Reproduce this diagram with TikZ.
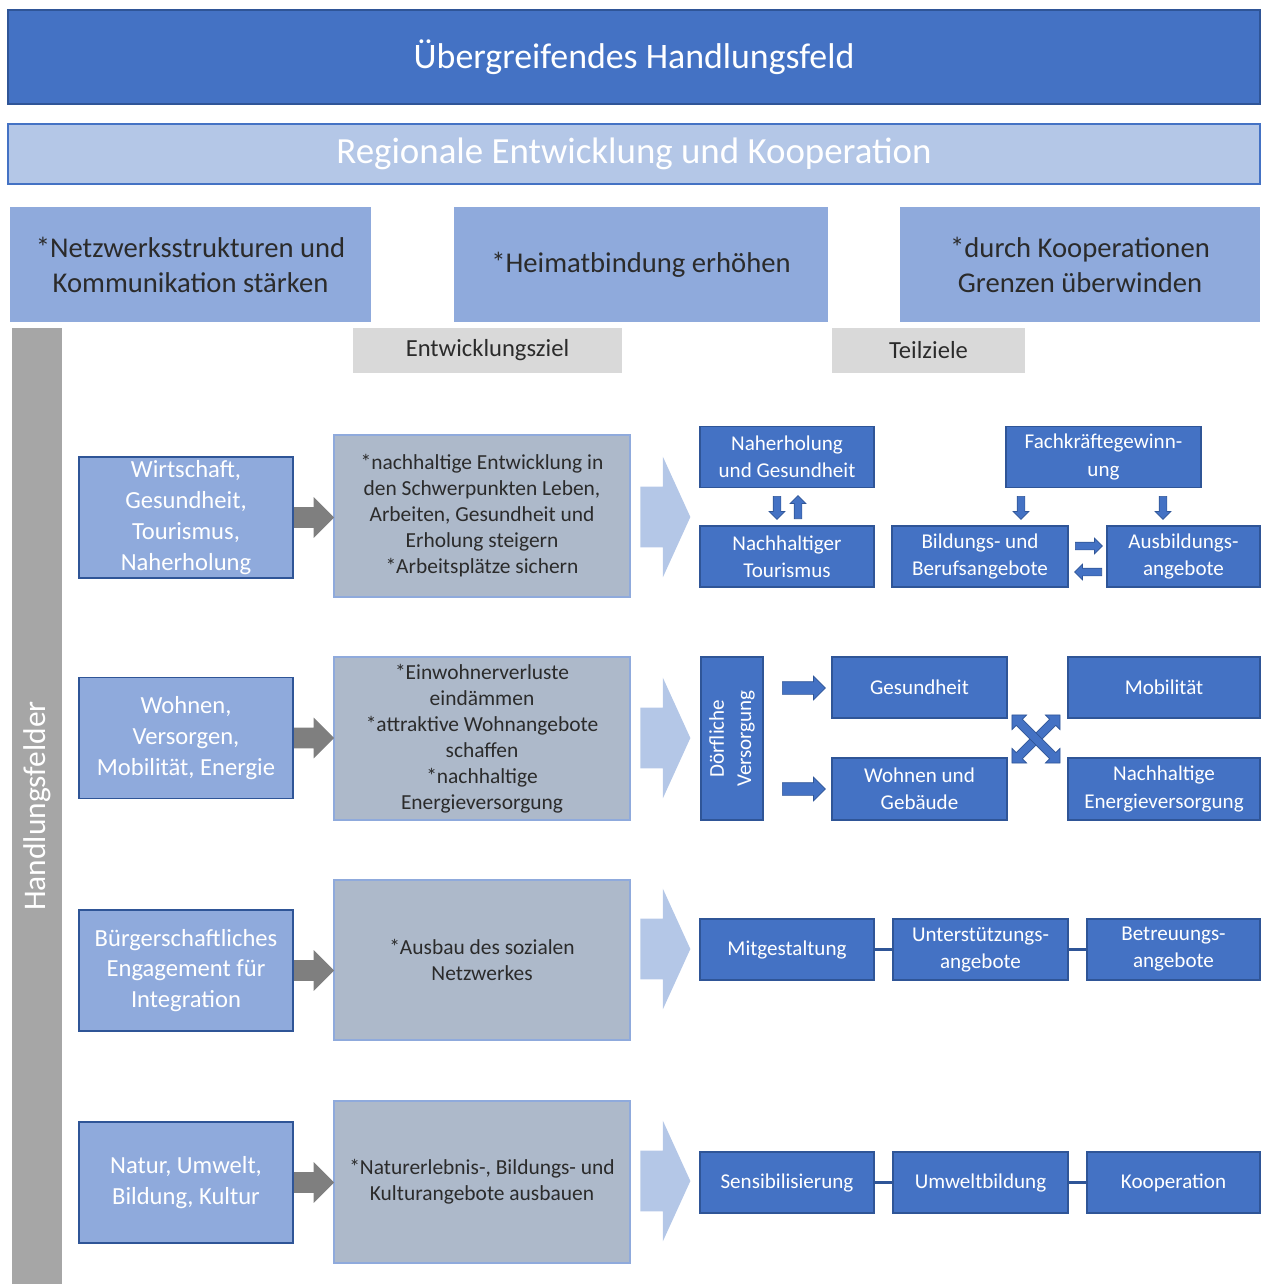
\documentclass[tikz,border=0pt]{standalone}
\usepackage{fontspec}
\setmainfont{Carlito}
\usetikzlibrary{shapes.arrows,calc}
\definecolor{dblue}{HTML}{4472C4}
\definecolor{bdark}{HTML}{2F5597}
\definecolor{lblue}{HTML}{B4C7E7}
\definecolor{mblue}{HTML}{8FAADC}
\definecolor{gblue}{HTML}{ADB9CA}
\definecolor{hgray}{HTML}{D9D9D9}
\definecolor{bargray}{HTML}{A6A6A6}
\definecolor{arrgray}{HTML}{7F7F7F}
\definecolor{txtdark}{HTML}{2B2B2B}
\newcommand{\fs}[2]{\fontsize{#1}{#2}\selectfont}
\begin{document}
\begin{tikzpicture}[x=0.02cm,y=-0.02cm]
\pgfmathsetlengthmacro\pix{0.02cm};
\tikzset{
  box/.style={inner sep=0pt, align=center},
  lbox/.style={box, fill=mblue, draw=bdark, line width=0.8pt, text=white, minimum width=214*\pix, minimum height=121*\pix, font={\fs{14}{17.6}}},
  zbox/.style={box, fill=gblue, draw=mblue, line width=1pt, text=txtdark, minimum width=296*\pix, minimum height=162*\pix, font={\fs{12.2}{14.8}}},
  tbox/.style={box, fill=dblue, draw=bdark, line width=0.6pt, text=white, minimum height=61*\pix, font={\fs{12}{15.4}}},
  zielbox/.style={box, fill=mblue, text=txtdark, minimum height=115*\pix, font={\fs{16.3}{19.9}}},
  headbox/.style={box, fill=hgray, text=txtdark, minimum height=45*\pix, font={\fs{14}{16}}},
  grayarr/.style={single arrow, anchor=tail, fill=arrgray, inner xsep=0pt, inner ysep=10*\pix, minimum width=0pt, minimum height=40*\pix, single arrow head extend=10*\pix, single arrow tip angle=90},
  chevron/.style={single arrow, anchor=tail, fill=lblue, inner xsep=0pt, inner ysep=30*\pix, minimum width=0pt, minimum height=50*\pix, single arrow head extend=30*\pix, single arrow tip angle=131},
  barr/.style={single arrow, anchor=tail, fill=dblue, draw=bdark, line width=0.4pt, inner xsep=0pt, inner ysep=3.5*\pix, minimum width=0pt, single arrow head extend=4*\pix, single arrow tip angle=90},
  xarr/.style={double arrow, fill=dblue, draw=bdark, line width=0.4pt, inner xsep=0pt, inner ysep=4*\pix, minimum width=0pt, minimum height=68*\pix, double arrow head extend=6*\pix, double arrow tip angle=90},
  conn/.style={draw=bdark, line width=1.4pt}
}
\useasboundingbox (0,0) rectangle (1262,1284);
% Kopf
\node[box, fill=dblue, draw=bdark, line width=0.8pt, text=white, minimum width=1252*\pix, minimum height=94*\pix, font={\fs{20.4}{23}}] (top) at (634,57) {Übergreifendes Handlungsfeld};
\node[box, fill=lblue, draw=dblue, line width=1.2pt, text=white, minimum width=1252*\pix, minimum height=60*\pix, font={\fs{21}{23}}] (reg) at (634,154) {Regionale Entwicklung und Kooperation};
\node[zielbox, minimum width=361*\pix] (ziel1) at (190.5,264.5) {*Netzwerksstrukturen und\\Kommunikation stärken};
\node[zielbox, minimum width=374*\pix] (ziel2) at (641,264.5) {*Heimatbindung erhöhen};
\node[zielbox, minimum width=360*\pix] (ziel3) at (1080,264.5) {*durch Kooperationen\\Grenzen überwinden};
% Spalten
\node[box, fill=bargray, text=white, rotate=90, minimum width=956*\pix, minimum height=50*\pix, font={\fs{17.9}{20}}] (hf) at (37,806) {Handlungsfelder};
\node[headbox, minimum width=269*\pix] (ez) at (487.5,350.5) {Entwicklungsziel};
\node[headbox, minimum width=193*\pix] (tz) at (928.5,350.5) {Teilziele};
% Zeile 1
\node[lbox] (w1) at (186,517.5) {Wirtschaft,\\Gesundheit,\\Tourismus,\\Naherholung};
\node[zbox] (z1) at (482,516) {*nachhaltige Entwicklung in\\den Schwerpunkten Leben,\\Arbeiten, Gesundheit und\\Erholung steigern\\*Arbeitsplätze sichern};
\node[grayarr] (g1) at (w1.east) {};
\node[chevron] (c1) at (640,517) {};
\node[tbox, minimum width=174*\pix] (nag) at (787,457) {Naherholung\\und Gesundheit};
\node[tbox, minimum width=174*\pix] (nt) at (787,556.5) {Nachhaltiger\\Tourismus};
\node[tbox, minimum width=195*\pix] (fk) at (1103.5,457) {Fachkräftegewinn-\\ung};
\node[tbox, minimum width=176*\pix] (bb) at (980,556.5) {Bildungs- und\\Berufsangebote};
\node[tbox, minimum width=153*\pix] (ab) at (1183.5,556.5) {Ausbildungs-\\angebote};
\node[barr, minimum height=23*\pix, rotate=-90] (nag-nt) at (777,496) {};
\node[barr, minimum height=23*\pix, rotate=90] (nt-nag) at (798,519) {};
\node[barr, minimum height=23*\pix, rotate=-90] (fk-bb) at (1021,496) {};
\node[barr, minimum height=23*\pix, rotate=-90] (fk-ab) at (1163,496) {};
\node[barr, minimum height=27*\pix] (bb-ab) at (1075,546) {};
\node[barr, minimum height=27*\pix, rotate=180] (ab-bb) at (1102,572) {};
% Zeile 2
\node[lbox] (w2) at (186,738) {Wohnen,\\Versorgen,\\Mobilität, Energie};
\node[zbox, minimum height=163*\pix] (z2) at (482,738.5) {*Einwohnerverluste\\eindämmen\\*attraktive Wohnangebote\\schaffen\\*nachhaltige\\Energieversorgung};
\node[grayarr] (g2) at (w2.east) {};
\node[chevron] (c2) at (640,738) {};
\node[tbox, rotate=90, minimum width=163*\pix, minimum height=62*\pix] (dv) at (732,738.5) {Dörfliche\\Versorgung};
\node[tbox, minimum width=175*\pix] (ges) at (919.5,687.5) {Gesundheit};
\node[tbox, minimum width=175*\pix, minimum height=62*\pix] (wg) at (919.5,789) {Wohnen und\\Gebäude};
\node[tbox, minimum width=192*\pix] (mob) at (1164,687.5) {Mobilität};
\node[tbox, minimum width=192*\pix, minimum height=62*\pix] (ne) at (1164,789) {Nachhaltige\\Energieversorgung};
\node[barr, minimum height=43*\pix, inner ysep=6*\pix, single arrow head extend=5.5*\pix] (dv-ges) at (782,688) {};
\node[barr, minimum height=43*\pix, inner ysep=6*\pix, single arrow head extend=5.5*\pix] (dv-wg) at (782,789) {};
\node[xarr, rotate=45] (x1) at (1036,739) {};
\node[xarr, rotate=-45] (x2) at (1036,739) {};
% Zeile 3
\node[lbox] (w3) at (186,970.5) {Bürgerschaftliches\\Engagement für\\Integration};
\node[zbox, minimum height=160*\pix] (z3) at (482,960) {*Ausbau des sozialen\\Netzwerkes};
\node[grayarr] (g3) at (w3.east) {};
\node[chevron] (c3) at (640,949) {};
\node[tbox, minimum width=174*\pix] (mg) at (787,949.5) {Mitgestaltung};
\node[tbox, minimum width=175*\pix] (ua) at (980.5,949.5) {Unterstützungs-\\angebote};
\node[tbox, minimum width=173*\pix] (ba) at (1173.5,949.5) {Betreuungs-\\angebote};
\draw[conn] (mg) -- (ua);
\draw[conn] (ua) -- (ba);
% Zeile 4
\node[lbox] (w4) at (186,1182.5) {Natur, Umwelt,\\Bildung, Kultur};
\node[zbox] (z4) at (482,1182) {*Naturerlebnis-, Bildungs- und\\Kulturangebote ausbauen};
\node[grayarr] (g4) at (w4.east) {};
\node[chevron] (c4) at (640,1181) {};
\node[tbox, minimum width=174*\pix] (se) at (787,1182.5) {Sensibilisierung};
\node[tbox, minimum width=175*\pix] (ub) at (980.5,1182.5) {Umweltbildung};
\node[tbox, minimum width=173*\pix] (ko) at (1173.5,1182.5) {Kooperation};
\draw[conn] (se) -- (ub);
\draw[conn] (ub) -- (ko);
\end{tikzpicture}
\end{document}
